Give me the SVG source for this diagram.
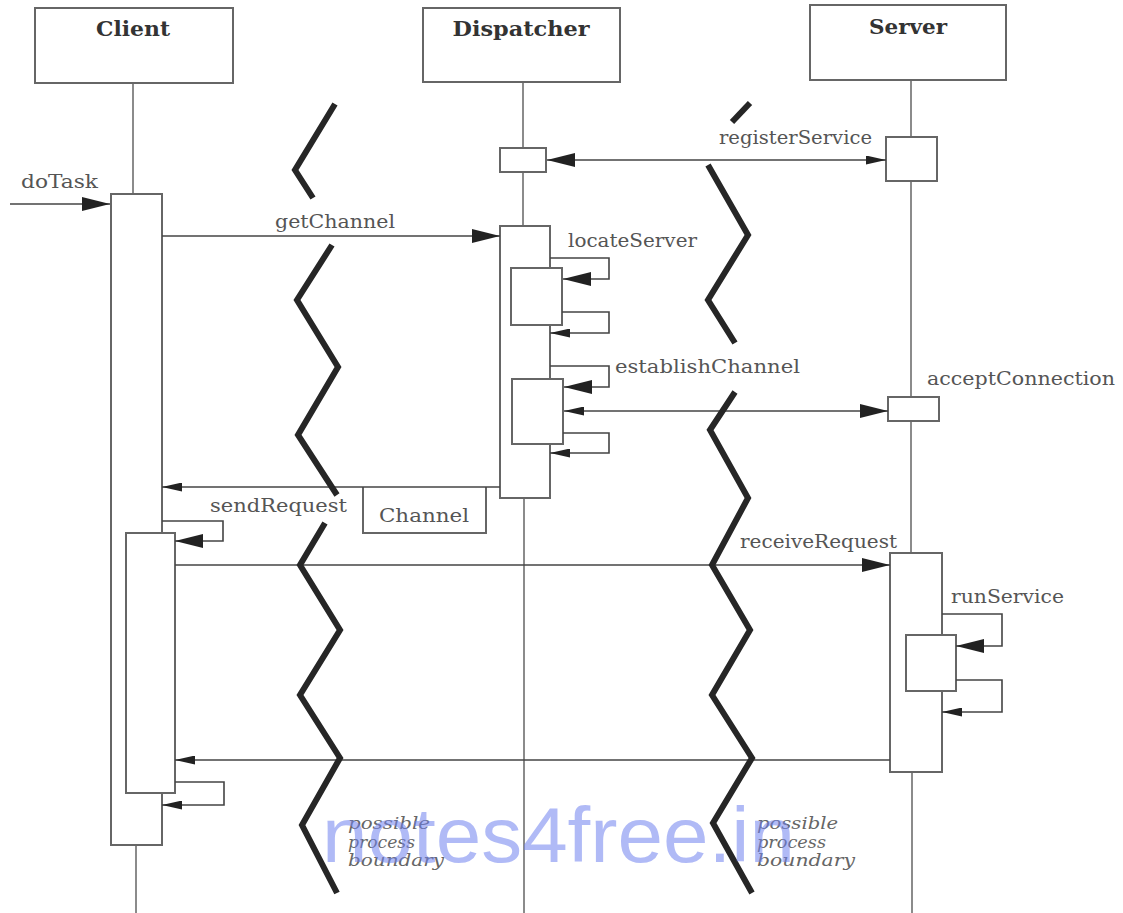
<svg xmlns="http://www.w3.org/2000/svg" width="1123" height="913" viewBox="0 0 1123 913">
<style>
.box{fill:#fff;stroke:#666;stroke-width:2}
.life{stroke:#666;stroke-width:1.5;fill:none}
.msg{stroke:#444;stroke-width:1.6;fill:none}
.zig{stroke:#262626;stroke-width:6;fill:none;stroke-linejoin:miter;stroke-linecap:butt}
.title{font-family:"DejaVu Serif","Liberation Serif",serif;font-weight:bold;font-size:20px;fill:#333}
.lbl{font-family:"DejaVu Serif","Liberation Serif",serif;font-size:19px;fill:#555}
.note{font-family:"DejaVu Serif","Liberation Serif",serif;font-style:italic;font-size:16px;fill:#666}
.wm{font-family:"Liberation Sans",Arial,sans-serif;font-size:78px;fill:#6f82ee;fill-opacity:0.55}
</style>
<defs>
<marker id="big" markerUnits="userSpaceOnUse" markerWidth="28" markerHeight="14" viewBox="0 0 28 14" refX="28" refY="7" orient="auto-start-reverse"><path d="M0,0 L28,7 L0,14 Z" fill="#222"/></marker>
<marker id="small" markerUnits="userSpaceOnUse" markerWidth="20" markerHeight="9" viewBox="0 0 20 9" refX="20" refY="4.5" orient="auto-start-reverse"><path d="M0,0 L20,4.5 L0,9 Z" fill="#222"/></marker>
</defs>
<rect width="1123" height="913" fill="#fff"/>

<g id="lifelines">
<path class="life" d="M133,83 V194 M136,845 V913"/>
<path class="life" d="M523,82 V148 M523,172 V226 M524,498 V913"/>
<path class="life" d="M911,80 V137 M911,181 V397 M911,421 V553 M912,772 V913"/>
</g>

<g id="client">
<rect class="box" x="35" y="8" width="198" height="75"/>
<text class="title" x="133" y="36" text-anchor="middle" textLength="74" lengthAdjust="spacingAndGlyphs">Client</text>
<rect class="box" x="111" y="194" width="51" height="651"/>
<rect class="box" x="126" y="533" width="49" height="260"/>
</g>

<g id="dispatcher">
<rect class="box" x="423" y="8" width="197" height="74"/>
<text class="title" x="521" y="36" text-anchor="middle" textLength="137" lengthAdjust="spacingAndGlyphs">Dispatcher</text>
<rect class="box" x="500" y="148" width="46" height="24"/>
<rect class="box" x="500" y="226" width="50" height="272"/>
<rect class="box" x="511" y="268" width="51" height="57"/>
<rect class="box" x="512" y="379" width="51" height="65"/>
</g>

<g id="server">
<rect class="box" x="810" y="5" width="196" height="75"/>
<text class="title" x="908" y="34" text-anchor="middle" textLength="78" lengthAdjust="spacingAndGlyphs">Server</text>
<rect class="box" x="886" y="137" width="51" height="44"/>
<rect class="box" x="888" y="397" width="51" height="24"/>
<rect class="box" x="890" y="553" width="52" height="219"/>
<rect class="box" x="906" y="635" width="50" height="56"/>
</g>

<g id="channel-note">
<path class="box" d="M363,487 V533 H486 V487"/>
<text class="lbl" x="424" y="522" text-anchor="middle" textLength="90" lengthAdjust="spacingAndGlyphs">Channel</text>
</g>

<g id="connectors">
<path class="msg" d="M10,204 H110" marker-end="url(#big)"/>
<path class="msg" d="M162,236 H500" marker-end="url(#big)"/>
<path class="msg" d="M547,160 H886" marker-start="url(#big)" marker-end="url(#small)"/>
<path class="msg" d="M550,258 H609 V279 H563" marker-end="url(#big)"/>
<path class="msg" d="M562,312 H609 V333 H550" marker-end="url(#small)"/>
<path class="msg" d="M550,366 H609 V387 H564" marker-end="url(#big)"/>
<path class="msg" d="M563,433 H609 V453 H550" marker-end="url(#small)"/>
<path class="msg" d="M564,411 H888" marker-start="url(#small)" marker-end="url(#big)"/>
<path class="msg" d="M500,487 H162" marker-end="url(#small)"/>
<path class="msg" d="M162,521 H223 V541 H175" marker-end="url(#big)"/>
<path class="msg" d="M175,565 H890" marker-end="url(#big)"/>
<path class="msg" d="M942,614 H1002 V646 H956" marker-end="url(#big)"/>
<path class="msg" d="M956,680 H1002 V712 H942" marker-end="url(#small)"/>
<path class="msg" d="M890,760 H175" marker-end="url(#small)"/>
<path class="msg" d="M175,782 H224 V805 H162" marker-end="url(#small)"/>
</g>

<g id="labels">
<text class="lbl" x="21" y="188" textLength="77" lengthAdjust="spacingAndGlyphs">doTask</text>
<text class="lbl" x="275" y="228" textLength="120" lengthAdjust="spacingAndGlyphs">getChannel</text>
<text class="lbl" x="719" y="144" textLength="153" lengthAdjust="spacingAndGlyphs">registerService</text>
<text class="lbl" x="568" y="247" textLength="129" lengthAdjust="spacingAndGlyphs">locateServer</text>
<text class="lbl" x="615" y="373" textLength="185" lengthAdjust="spacingAndGlyphs">establishChannel</text>
<text class="lbl" x="927" y="385" textLength="188" lengthAdjust="spacingAndGlyphs">acceptConnection</text>
<text class="lbl" x="210" y="512" textLength="137" lengthAdjust="spacingAndGlyphs">sendRequest</text>
<text class="lbl" x="740" y="548" textLength="157" lengthAdjust="spacingAndGlyphs">receiveRequest</text>
<text class="lbl" x="951" y="603" textLength="113" lengthAdjust="spacingAndGlyphs">runService</text>
</g>

<g id="boundary-left">
<polyline class="zig" points="335,104 295,170 313,198"/>
<polyline class="zig" points="332,245 297,300 338,367 298,435 337,495"/>
<polyline class="zig" points="325,523 300,565 340,630 300,695 340,758 302,825 337,893"/>
<text class="note" x="348" y="829" textLength="82" lengthAdjust="spacingAndGlyphs">possible</text>
<text class="note" x="348" y="848" textLength="67" lengthAdjust="spacingAndGlyphs">process</text>
<text class="note" x="348" y="866" textLength="96" lengthAdjust="spacingAndGlyphs">boundary</text>
</g>

<g id="boundary-right">
<polyline class="zig" points="750,103 732,122"/>
<polyline class="zig" points="708,165 748,235 708,300 735,343"/>
<polyline class="zig" points="735,392 710,430 748,498 712,565 750,630 712,695 752,758 713,823 752,893"/>
<text class="note" x="757" y="829" textLength="81" lengthAdjust="spacingAndGlyphs">possible</text>
<text class="note" x="757" y="848" textLength="69" lengthAdjust="spacingAndGlyphs">process</text>
<text class="note" x="757" y="866" textLength="98" lengthAdjust="spacingAndGlyphs">boundary</text>
</g>

<text class="wm" x="322" y="862" textLength="473" lengthAdjust="spacingAndGlyphs">notes4free.in</text>
</svg>
